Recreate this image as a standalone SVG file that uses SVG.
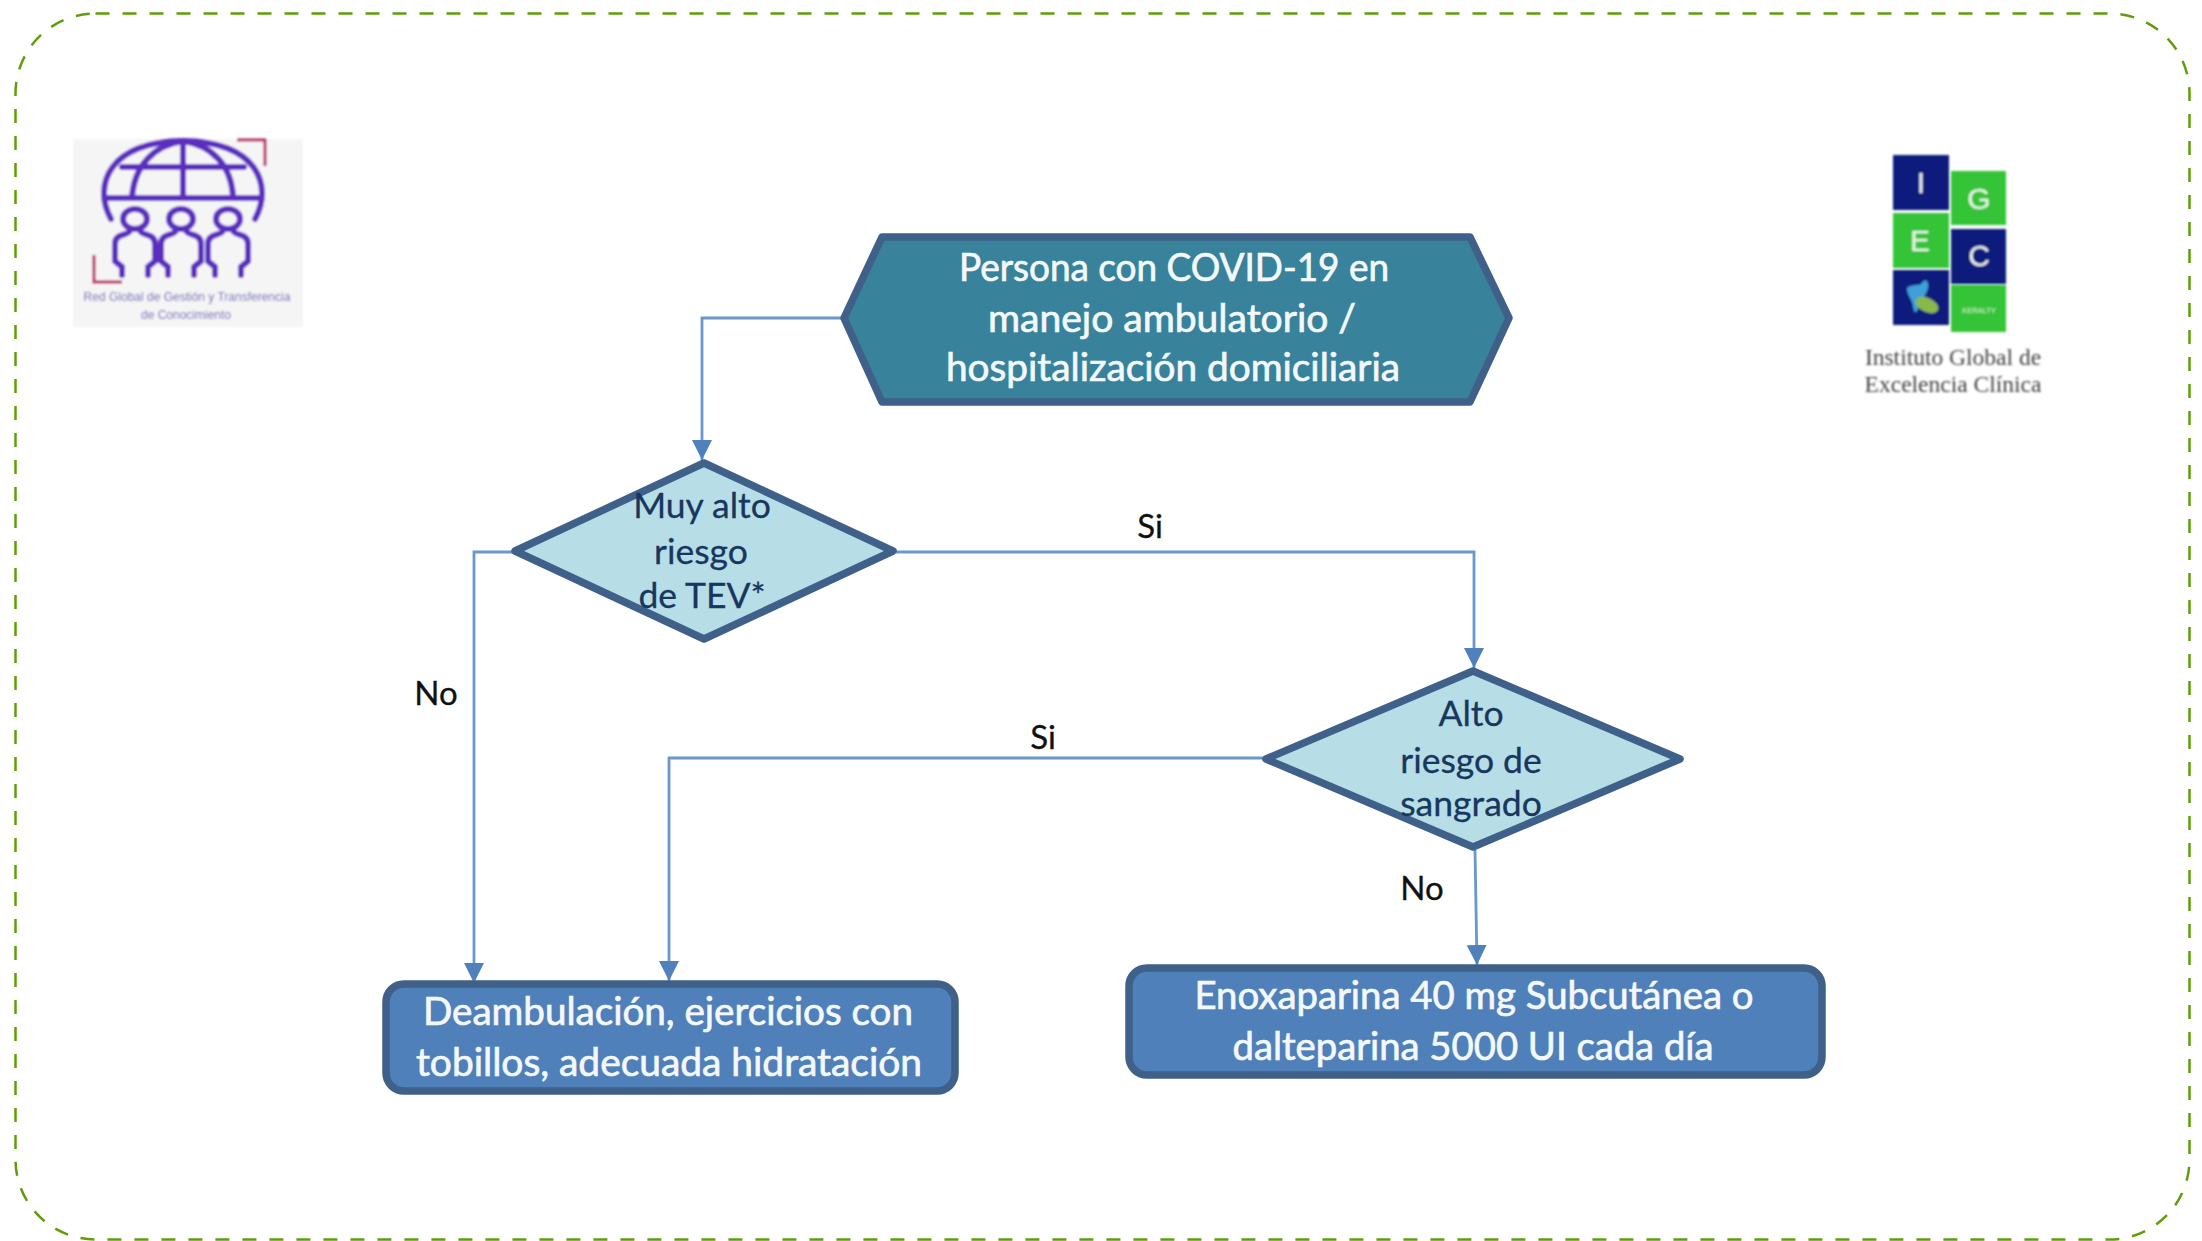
<svg xmlns="http://www.w3.org/2000/svg" width="2202" height="1241" viewBox="0 0 2202 1241">
<style>
text{font-family:"Lato","Carlito","Open Sans",sans-serif;text-anchor:middle}
.w{fill:#f4f8fb;stroke:#f4f8fb;stroke-width:.7;font-size:38px}
.d{fill:#17375e;font-size:35.5px;stroke:#17375e;stroke-width:.3}
.l{fill:#111;font-size:33px;stroke:#111;stroke-width:.3}
.n{stroke:#3f6088;stroke-width:7.5;stroke-linejoin:round}
.c{fill:none;stroke:#6b97cc;stroke-width:2.8;marker-end:url(#a)}
.g{fill:none;stroke:#5b2fc0;stroke-width:6;stroke-linecap:round}
.r{fill:none;stroke:#b5285f;stroke-width:3}
.lg{fill:#eef6ee;font-family:"Liberation Sans",sans-serif;font-size:30px}
.t1{font-family:"Liberation Sans",sans-serif;font-size:12px;fill:#6a63b8}
.t2{font-family:"Liberation Serif",serif;font-size:23.5px;fill:#444}
</style>
<defs>
<marker id="a" markerUnits="userSpaceOnUse" markerWidth="22" markerHeight="22" refX="20" refY="11" orient="auto"><path d="M0 1L20 11L0 21Z" fill="#4f81bd"/></marker>
<filter id="b" x="-5%" y="-5%" width="110%" height="110%"><feGaussianBlur stdDeviation="1"/></filter>
<g id="p"><ellipse cx="0" cy="0" rx="12" ry="10" class="g"/><path class="g" d="M-6 13C-10 17-20 15-20 25V42L-13 48V56M6 13C10 17 20 15 20 25V42L13 48V56"/></g>
</defs>
<rect id="frame" x="15.5" y="13.5" width="2174" height="1226" rx="80" fill="none" stroke="#5f9e0a" stroke-width="2.5" stroke-dasharray="14 13"/>
<g id="logo-red" filter="url(#b)">
<rect x="73" y="139" width="230" height="188" fill="#f5f5f5"/>
<path class="r" d="M237 140H265V166M94 255V282H122"/>
<path class="g" d="M111 219C92 185 110 141 183 141C256 141 274 185 255 219"/>
<path class="g" d="M132 198C134 165 155 145 183 141C211 145 232 165 233 198M183 141V198M106 198H260M122 167H244"/>
<use href="#p" x="135" y="219"/><use href="#p" x="181" y="219"/><use href="#p" x="228" y="219"/>
<text x="187" y="301" class="t1">Red Global de Gestión y Transferencia</text>
<text x="186" y="319" class="t1">de Conocimiento</text>
</g>
<g id="logo-iegc" filter="url(#b)">
<rect x="1893" y="155" width="56" height="55" fill="#101f7c"/>
<rect x="1893" y="213" width="56" height="55" fill="#35c437"/>
<rect x="1893" y="270" width="56" height="55" fill="#101f7c"/>
<rect x="1951" y="171" width="55" height="54" fill="#35c437"/>
<rect x="1951" y="229" width="55" height="55" fill="#101f7c"/>
<rect x="1951" y="285" width="55" height="47" fill="#35c437"/>
<text x="1921" y="193" class="lg">I</text><text x="1920" y="251" class="lg">E</text>
<text x="1979" y="209" class="lg">G</text><text x="1979" y="266" class="lg">C</text>
<text x="1979" y="313" style="font-family:'Liberation Sans',sans-serif;font-size:7.5px;fill:#d8f2d8">KERALTY</text>
<path d="M1907 288C1912 284 1918 286 1921 284C1925 278 1929 280 1928 288C1926 296 1921 300 1919 306C1917 314 1914 314 1913 306C1912 298 1907 296 1907 288Z" fill="#3f9fd8"/>
<ellipse cx="1927" cy="305" rx="12" ry="7" transform="rotate(25 1927 305)" fill="#8ab84a"/>
<text x="1953" y="365" class="t2">Instituto Global de</text>
<text x="1953" y="392" class="t2">Excelencia Clínica</text>
</g>
<g id="connectors">
<path class="c" d="M842 318H702V460"/>
<path class="c" d="M512 552H474V983"/>
<path class="c" d="M896 552H1474V668"/>
<path class="c" d="M1263 758H669V981"/>
<path class="c" d="M1475 850L1477 965"/>
</g>
<g id="start"><path class="n" fill="#38839b" d="M882 237H1470L1509 318L1470 402H882L844 318Z"/>
<text class="w" x="1174" y="281" textLength="430" lengthAdjust="spacingAndGlyphs">Persona con COVID-19 en</text><text class="w" x="1172" y="332" textLength="368" lengthAdjust="spacingAndGlyphs">manejo ambulatorio /</text><text class="w" x="1173" y="381" textLength="454" lengthAdjust="spacingAndGlyphs">hospitalización domiciliaria</text></g>
<g id="d1"><path class="n" fill="#b7dde6" d="M704 463L893 551L704 639L515 551Z"/>
<text class="d" x="702" y="518">Muy alto</text><text class="d" x="701" y="564">riesgo</text><text class="d" x="702" y="608">de TEV*</text></g>
<g id="d2"><path class="n" fill="#b7dde6" d="M1473 671L1680 759L1473 847L1266 759Z"/>
<text class="d" x="1471" y="726">Alto</text><text class="d" x="1471" y="773">riesgo de</text><text class="d" x="1471" y="816">sangrado</text></g>
<g id="b1"><rect class="n" fill="#5080ba" x="386" y="984" width="569" height="107" rx="18"/>
<text class="w" x="668" y="1025" textLength="490" lengthAdjust="spacingAndGlyphs">Deambulación, ejercicios con</text><text class="w" x="669" y="1076" textLength="506" lengthAdjust="spacingAndGlyphs">tobillos, adecuada hidratación</text></g>
<g id="b2"><rect class="n" fill="#5080ba" x="1129" y="968" width="693" height="107" rx="18"/>
<text class="w" x="1474" y="1009" textLength="559" lengthAdjust="spacingAndGlyphs">Enoxaparina 40 mg Subcutánea o</text><text class="w" x="1473" y="1060" textLength="481" lengthAdjust="spacingAndGlyphs">dalteparina 5000 UI cada día</text></g>
<g id="labels">
<text class="l" x="436" y="705">No</text><text class="l" x="1150" y="538">Si</text><text class="l" x="1043" y="749">Si</text><text class="l" x="1422" y="900">No</text>
</g>
</svg>
